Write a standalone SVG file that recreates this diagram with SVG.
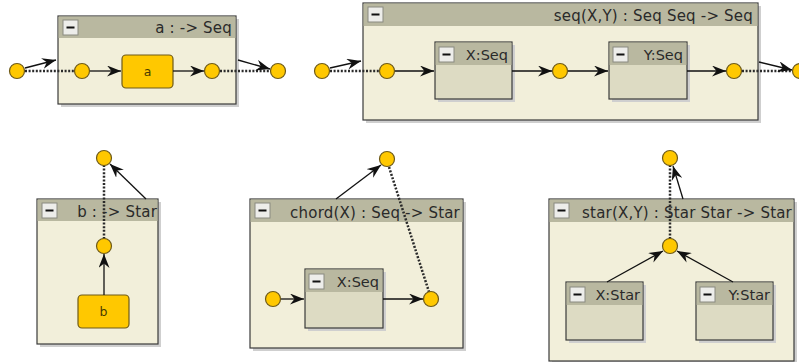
<svg xmlns="http://www.w3.org/2000/svg" width="799" height="362" viewBox="0 0 799 362">
<style>
.shadow{fill:#cfcfcf}
.body{fill:#f2efda;stroke:#3a3a3a;stroke-width:1.2}
.hdr{fill:#b9b8a0}
.ibody{fill:#dddbc3;stroke:#3a3a3a;stroke-width:1.2}
.btn{fill:#ededea;stroke:#8a8a80;stroke-width:1}
.bar{fill:#111}
.title{font-family:"DejaVu Sans",sans-serif;font-size:15px;fill:#2a2a2a;text-anchor:end;letter-spacing:0.2px}
.ititle{font-family:"DejaVu Sans",sans-serif;font-size:14.5px;fill:#2a2a2a;text-anchor:end}
.lbl{font-family:"DejaVu Sans",sans-serif;font-size:12.5px;fill:#4a3c00;text-anchor:middle}
.prim{fill:#ffc800;stroke:#6e5a18;stroke-width:1.2}
.port{fill:#ffc800;stroke:#6e5a18;stroke-width:1.2}
.arr{stroke:#111;stroke-width:1.3;fill:none;marker-end:url(#ah)}
.dot{stroke:#2a2a2a;stroke-width:2.5;stroke-dasharray:2,1.6;fill:none}
</style>
<defs>
<marker id="ah" markerUnits="userSpaceOnUse" markerWidth="15" markerHeight="11" refX="14" refY="5.5" orient="auto">
<path d="M0,0 L14,5.5 L0,11 L4.5,5.5 z" fill="#111"/>
</marker>
</defs>

<g id="box-a">
<rect class="shadow" x="61" y="19" width="178" height="88"/>
<rect class="body" x="58" y="16" width="178" height="88"/>
<rect class="hdr" x="58.6" y="16.6" width="176.8" height="21.4"/>
<rect class="btn" x="63" y="20" width="15" height="15"/>
<rect class="bar" x="66.5" y="26.5" width="8" height="2"/>
<text class="title" x="232" y="33">a : -&gt; Seq</text>
<rect class="prim" x="122" y="55" width="51" height="33" rx="4"/>
<text class="lbl" x="147.5" y="75.5">a</text>
</g>

<g id="box-seq">
<rect class="shadow" x="366" y="6" width="395" height="117"/>
<rect class="body" x="363" y="3" width="395" height="117"/>
<rect class="hdr" x="363.6" y="3.6" width="393.8" height="22.4"/>
<rect class="btn" x="368" y="7" width="15" height="15"/>
<rect class="bar" x="371.5" y="13.5" width="8" height="2"/>
<text class="title" x="753" y="21">seq(X,Y) : Seq Seq -&gt; Seq</text>
</g>
<g id="box-seq-x">
<rect class="shadow" x="438" y="45" width="77" height="57"/>
<rect class="ibody" x="435" y="42" width="77" height="57"/>
<rect class="hdr" x="435.6" y="42.6" width="75.8" height="22.4"/>
<rect class="btn" x="439" y="47" width="15" height="15"/>
<rect class="bar" x="442.5" y="53.5" width="8" height="2"/>
<text class="ititle" x="508" y="60">X:Seq</text>
</g>
<g id="box-seq-y">
<rect class="shadow" x="612" y="45" width="78" height="57"/>
<rect class="ibody" x="609" y="42" width="78" height="57"/>
<rect class="hdr" x="609.6" y="42.6" width="76.8" height="22.4"/>
<rect class="btn" x="613" y="47" width="15" height="15"/>
<rect class="bar" x="616.5" y="53.5" width="8" height="2"/>
<text class="ititle" x="683" y="60">Y:Seq</text>
</g>

<g id="box-b">
<rect class="shadow" x="40" y="202" width="121" height="145"/>
<rect class="body" x="37" y="199" width="121" height="145"/>
<rect class="hdr" x="37.6" y="199.6" width="119.8" height="21.4"/>
<rect class="btn" x="42" y="203" width="15" height="15"/>
<rect class="bar" x="45.5" y="209.5" width="8" height="2"/>
<text class="title" x="157" y="216.5">b : -&gt; Star</text>
<rect class="prim" x="78" y="295" width="51" height="33" rx="4"/>
<text class="lbl" x="103.5" y="315.5">b</text>
</g>

<g id="box-chord">
<rect class="shadow" x="253" y="202" width="213" height="149"/>
<rect class="body" x="250" y="199" width="213" height="149"/>
<rect class="hdr" x="250.6" y="199.6" width="211.8" height="22.4"/>
<rect class="btn" x="255" y="203" width="15" height="15"/>
<rect class="bar" x="258.5" y="209.5" width="8" height="2"/>
<text class="title" x="460" y="217.5">chord(X) : Seq -&gt; Star</text>
</g>
<g id="box-chord-x">
<rect class="shadow" x="308" y="272" width="78" height="59"/>
<rect class="ibody" x="305" y="269" width="78" height="59"/>
<rect class="hdr" x="305.6" y="269.6" width="76.8" height="22.4"/>
<rect class="btn" x="309" y="274" width="15" height="15"/>
<rect class="bar" x="312.5" y="280.5" width="8" height="2"/>
<text class="ititle" x="379" y="287">X:Seq</text>
</g>

<g id="box-star">
<rect class="shadow" x="552" y="202" width="245" height="162"/>
<rect class="body" x="549" y="199" width="245" height="162"/>
<rect class="hdr" x="549.6" y="199.6" width="243.8" height="22.4"/>
<rect class="btn" x="554" y="203" width="15" height="15"/>
<rect class="bar" x="557.5" y="209.5" width="8" height="2"/>
<text class="title" x="792" y="217.5">star(X,Y) : Star Star -&gt; Star</text>
</g>
<g id="box-star-x">
<rect class="shadow" x="569" y="285" width="77" height="58"/>
<rect class="ibody" x="566" y="282" width="77" height="58"/>
<rect class="hdr" x="566.6" y="282.6" width="75.8" height="22.4"/>
<rect class="btn" x="570" y="287" width="15" height="15"/>
<rect class="bar" x="573.5" y="293.5" width="8" height="2"/>
<text class="ititle" x="640" y="300">X:Star</text>
</g>
<g id="box-star-y">
<rect class="shadow" x="699" y="285" width="77" height="58"/>
<rect class="ibody" x="696" y="282" width="77" height="58"/>
<rect class="hdr" x="696.6" y="282.6" width="75.8" height="22.4"/>
<rect class="btn" x="700" y="287" width="15" height="15"/>
<rect class="bar" x="703.5" y="293.5" width="8" height="2"/>
<text class="ititle" x="770" y="300">Y:Star</text>
</g>

<g id="connectors">
<path class="arr" d="M25,68 L56,60"/>
<path class="dot" d="M25,71 L75,71"/>
<path class="arr" d="M90,71 L121,71"/>
<path class="arr" d="M173,71 L204,71"/>
<path class="dot" d="M220,71 L271,71"/>
<path class="arr" d="M238,60 L270,69"/>
<path class="arr" d="M330,68 L361,61"/>
<path class="dot" d="M330,71 L380,71"/>
<path class="arr" d="M395,71 L434,71"/>
<path class="arr" d="M512,71 L552,71"/>
<path class="arr" d="M568,71 L608,71"/>
<path class="arr" d="M687,71 L726,71"/>
<path class="dot" d="M742,71 L792,71"/>
<path class="arr" d="M759,62 L792,70"/>
<path class="arr" d="M104,295 L104,254"/>
<path class="dot" d="M104,239 L104,165"/>
<path class="arr" d="M146,199 L110,164"/>
<path class="arr" d="M336,199 L381,165"/>
<path class="dot" d="M389,167 L429,292"/>
<path class="arr" d="M281,299 L304,299"/>
<path class="arr" d="M383,299 L423,299"/>
<path class="dot" d="M670,239 L670,165"/>
<path class="arr" d="M683,199 L673,166"/>
<path class="arr" d="M607,282 L663,251"/>
<path class="arr" d="M733,282 L677,251"/>
</g>

<g id="ports">
<circle class="port" cx="17" cy="71" r="7.5"/>
<circle class="port" cx="82" cy="71" r="7.5"/>
<circle class="port" cx="212" cy="71" r="7.5"/>
<circle class="port" cx="278" cy="71" r="7.5"/>
<circle class="port" cx="322" cy="71" r="7.5"/>
<circle class="port" cx="387" cy="71" r="7.5"/>
<circle class="port" cx="560" cy="71" r="7.5"/>
<circle class="port" cx="734" cy="71" r="7.5"/>
<circle class="port" cx="800" cy="71" r="7.5"/>
<circle class="port" cx="104" cy="158" r="7.5"/>
<circle class="port" cx="104" cy="246" r="7.5"/>
<circle class="port" cx="387" cy="159" r="7.5"/>
<circle class="port" cx="273" cy="299" r="7.5"/>
<circle class="port" cx="431" cy="299" r="7.5"/>
<circle class="port" cx="670" cy="158" r="7.5"/>
<circle class="port" cx="670" cy="246" r="7.5"/>
</g>
</svg>
